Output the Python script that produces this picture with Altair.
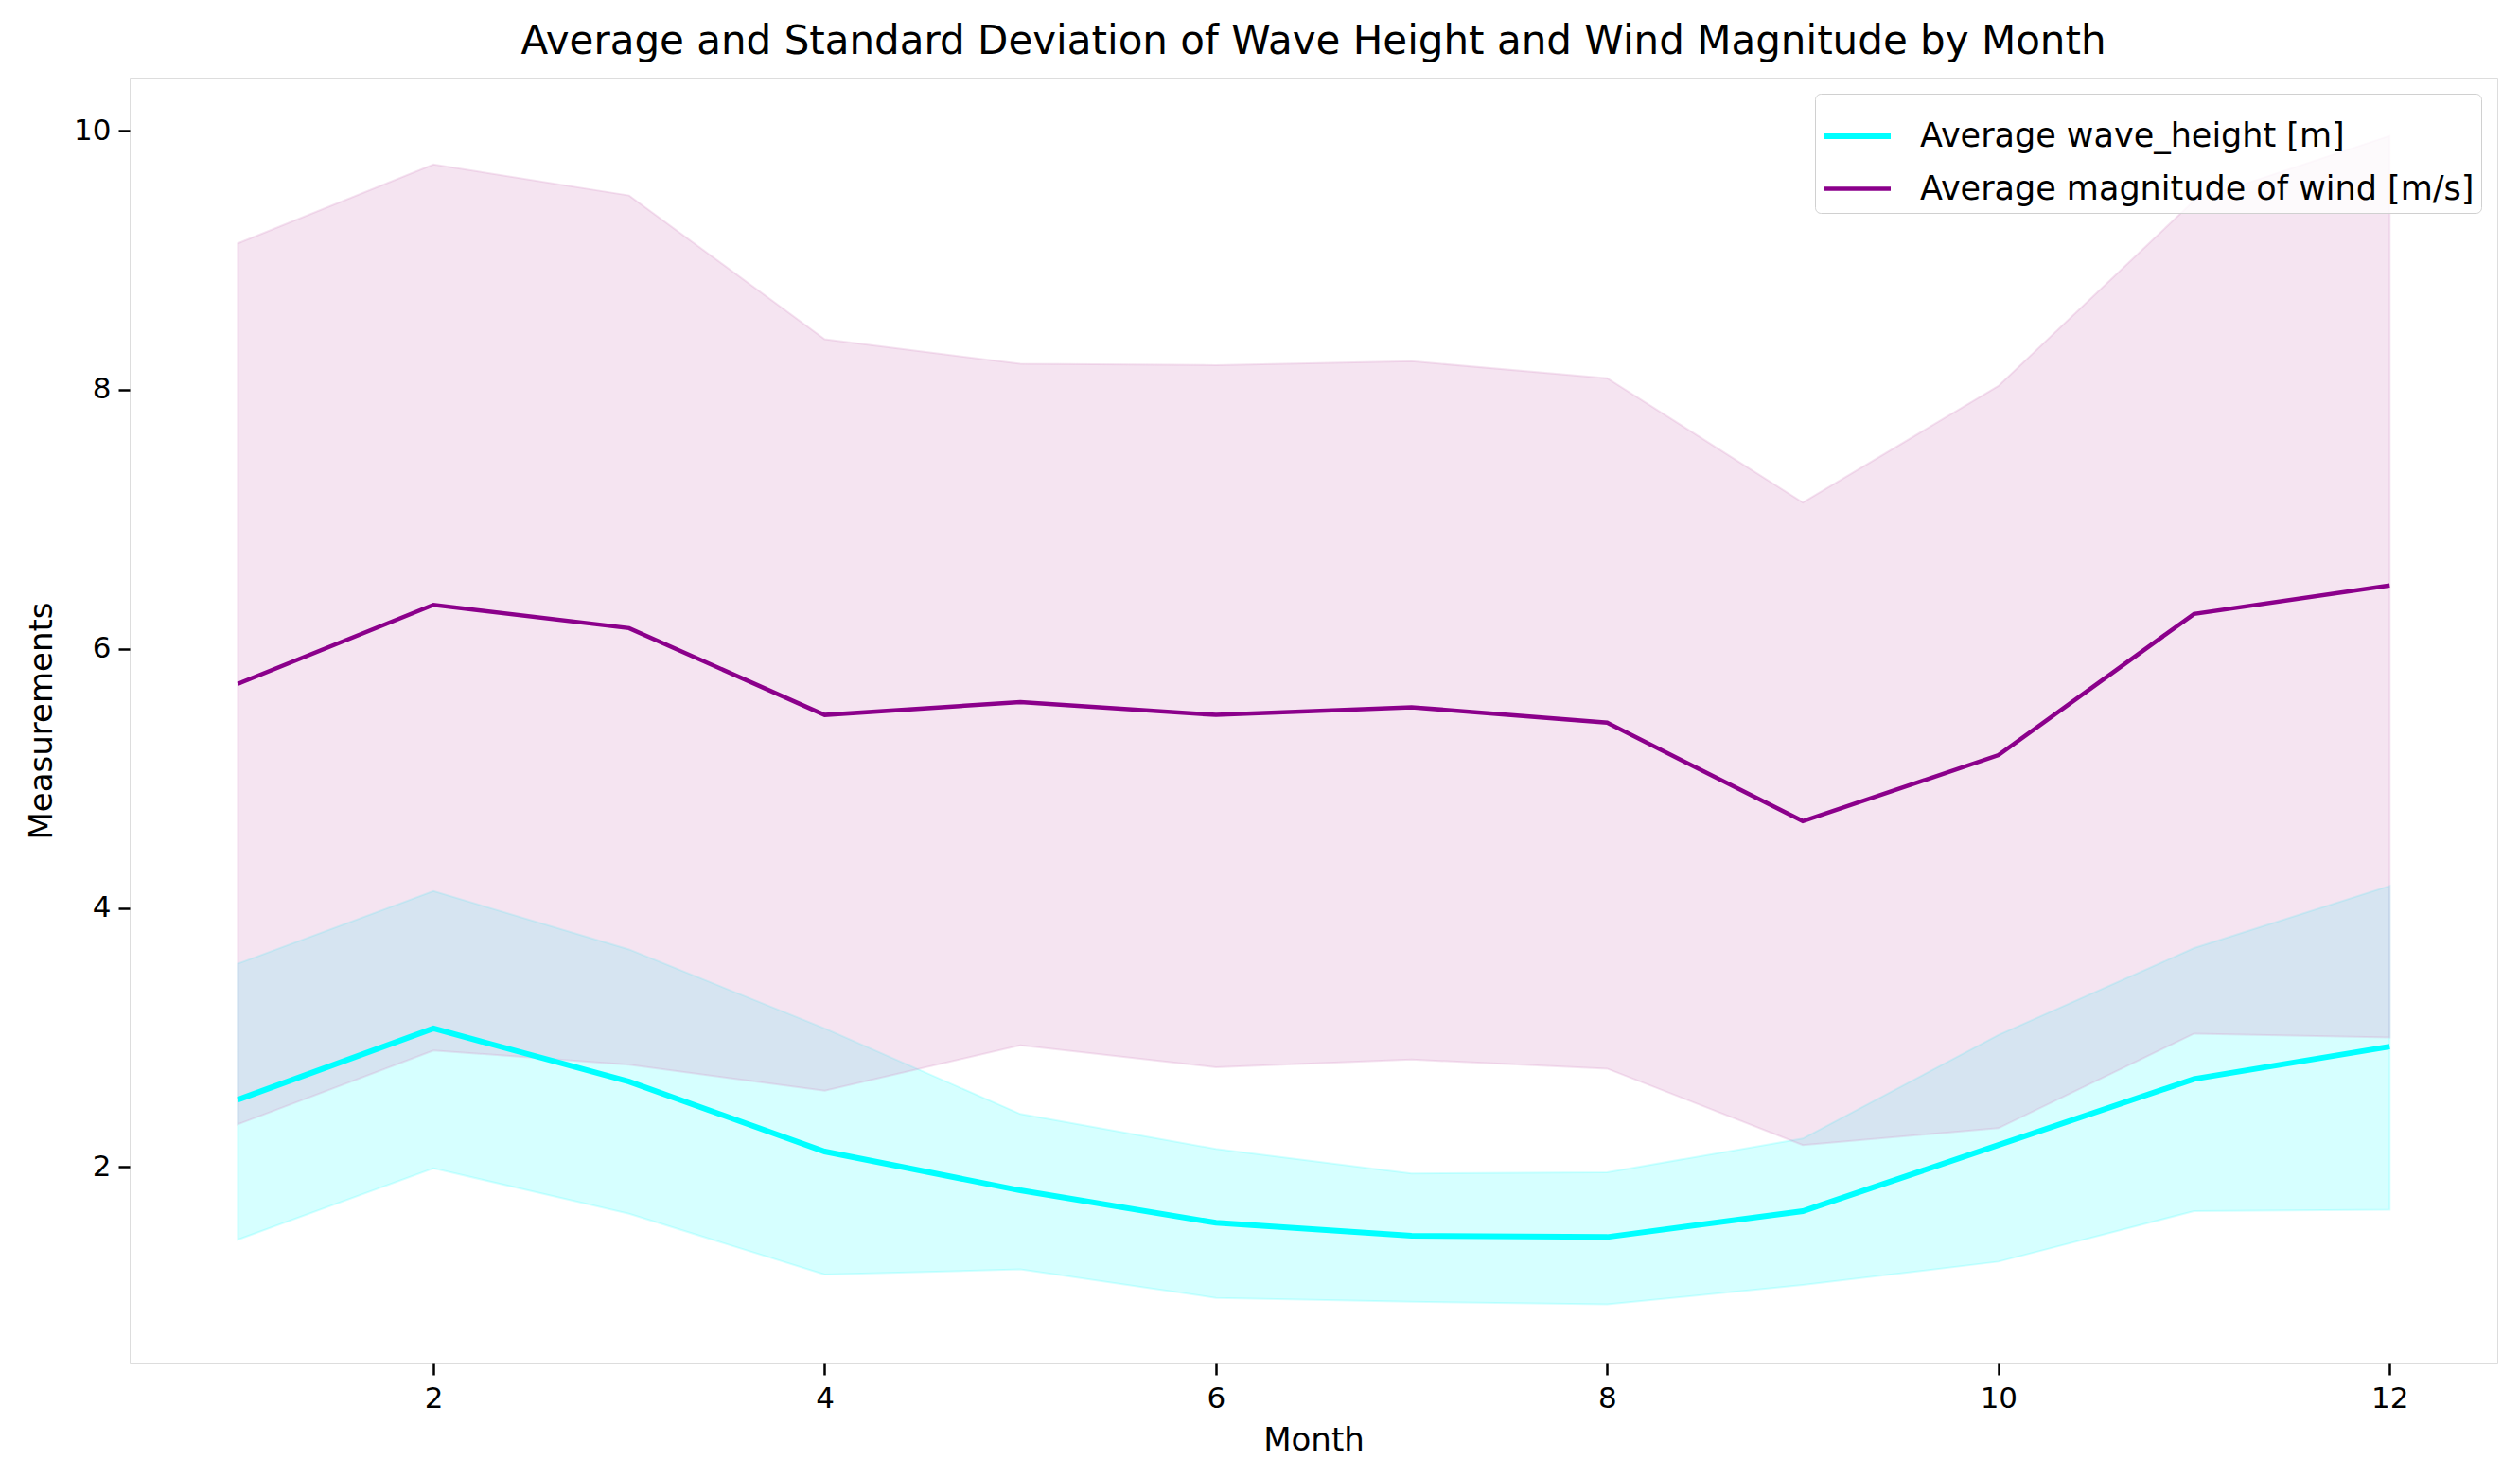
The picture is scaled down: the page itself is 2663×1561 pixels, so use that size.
import altair as alt
import pandas as pd

months = list(range(1, 13))
wave_mean = [2.52, 3.07, 2.66, 2.12, 1.82, 1.57, 1.47, 1.46, 1.66, 2.17, 2.68, 2.93]
wave_lower = [1.44, 1.99, 1.64, 1.17, 1.21, 0.99, 0.96, 0.94, 1.09, 1.27, 1.66, 1.67]
wave_upper = [3.57, 4.13, 3.68, 3.07, 2.41, 2.14, 1.95, 1.96, 2.22, 3.02, 3.69, 4.17]
wind_mean = [5.73, 6.34, 6.16, 5.49, 5.59, 5.49, 5.55, 5.43, 4.67, 5.18, 6.27, 6.49]
wind_lower = [2.33, 2.90, 2.79, 2.59, 2.94, 2.77, 2.83, 2.76, 2.17, 2.30, 3.03, 3.00]
wind_upper = [9.13, 9.74, 9.50, 8.39, 8.20, 8.19, 8.22, 8.09, 7.13, 8.03, 9.46, 9.96]

WAVE = "Average wave_height [m]"
WIND = "Average magnitude of wind [m/s]"

rows = []
for i, m in enumerate(months):
    rows.append({"month": m, "series": WAVE, "mean": wave_mean[i],
                 "lower": wave_lower[i], "upper": wave_upper[i]})
for i, m in enumerate(months):
    rows.append({"month": m, "series": WIND, "mean": wind_mean[i],
                 "lower": wind_lower[i], "upper": wind_upper[i]})
df = pd.DataFrame(rows)

FONT = "DejaVu Sans"
xscale = alt.Scale(domain=[0.447, 12.55], nice=False, zero=False)
yscale = alt.Scale(domain=[0.484, 10.41], nice=False, zero=False)

xaxis = alt.Axis(values=[2, 4, 6, 8, 10, 12], format="d", grid=False, domain=False,
                 tickColor="black", tickWidth=2.5, tickSize=12, labelPadding=10,
                 labelFontSize=31, labelFont=FONT, labelColor="black",
                 titleFontSize=34, titleFont=FONT, titleFontWeight="normal",
                 titleColor="black", titlePadding=12)
yaxis = alt.Axis(values=[2, 4, 6, 8, 10], format="d", grid=False, domain=False,
                 tickColor="black", tickWidth=2.5, tickSize=12, labelPadding=8,
                 labelFontSize=31, labelFont=FONT, labelColor="black",
                 titleFontSize=34, titleFont=FONT, titleFontWeight="normal",
                 titleColor="black", titlePadding=16)

base = alt.Chart(df)

wave_band = base.transform_filter(alt.datum.series == WAVE).mark_area(
    color="#00FFFF", fillOpacity=0.16, stroke="#00FFFF", strokeOpacity=0.16, strokeWidth=2
).encode(
    x=alt.X("month:Q", scale=xscale, axis=xaxis, title="Month"),
    y=alt.Y("lower:Q", scale=yscale, axis=yaxis, title="Measurements"),
    y2="upper:Q",
)

wind_band = base.transform_filter(alt.datum.series == WIND).mark_area(
    color="#D58EC5", fillOpacity=0.24, stroke="#D58EC5", strokeOpacity=0.24, strokeWidth=2
).encode(
    x=alt.X("month:Q", scale=xscale),
    y=alt.Y("lower:Q", scale=yscale),
    y2="upper:Q",
)

lines = base.mark_line().encode(
    x=alt.X("month:Q", scale=xscale),
    y=alt.Y("mean:Q", scale=yscale),
    color=alt.Color("series:N",
                    scale=alt.Scale(domain=[WAVE, WIND], range=["#00FFFF", "#8B008B"]),
                    legend=alt.Legend(title=None, orient="top-right", offset=17,
                                      symbolType="stroke", symbolSize=4900,
                                      symbolStrokeWidth=5, labelFontSize=35,
                                      labelFont=FONT, labelColor="black",
                                      labelLimit=1000, rowPadding=0,
                                      padding=7, strokeColor="#d0d0d0",
                                      fillColor="rgba(255,255,255,0.8)",
                                      cornerRadius=6, labelOffset=28)),
    strokeWidth=alt.StrokeWidth("series:N",
                                scale=alt.Scale(domain=[WAVE, WIND], range=[6, 4.5]),
                                legend=None),
    order=alt.Order("month:Q"),
)

chart = alt.layer(wave_band, wind_band, lines).properties(
    width=2502,
    height=1359,
    autosize=alt.AutoSizeParams(type="none"),
    padding={"left": 129, "top": 74, "right": 16, "bottom": 112},
    title=alt.TitleParams(
        "Average and Standard Deviation of Wave Height and Wind Magnitude by Month",
        font=FONT, fontSize=42, fontWeight="normal", color="black",
        anchor="middle", offset=16),
).configure_view(stroke="black", strokeWidth=2.5).configure(background="white")

chart.save("out.html", embed_options={"renderer": "svg", "actions": False})
